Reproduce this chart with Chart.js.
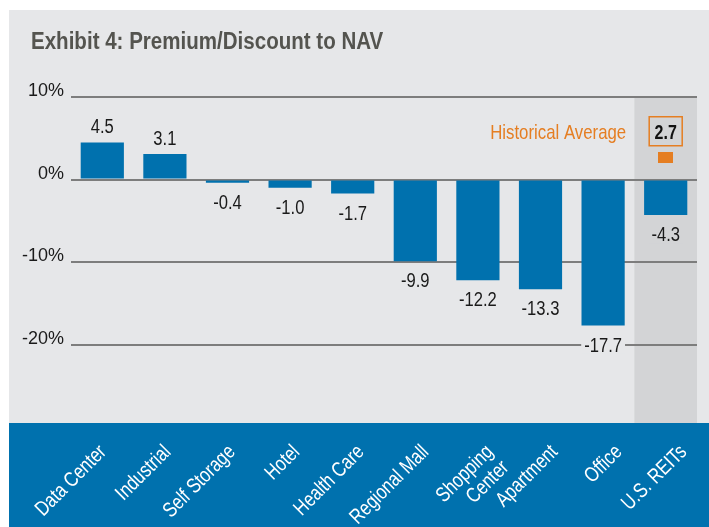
<!DOCTYPE html>
<html>
<head>
<meta charset="utf-8">
<script src="https://cdn.jsdelivr.net/npm/chart.js@4/dist/chart.umd.min.js"></script>
<style>
  html, body { margin: 0; padding: 0; background: #fff; }
  canvas { display: block; }
</style>
</head>
<body>
<canvas id="navChart" width="709" height="527"></canvas>
<script>
const categories = ['Data Center', 'Industrial', 'Self Storage', 'Hotel', 'Health Care',
  'Regional Mall', ['Shopping', 'Center'], 'Apartment', 'Office', 'U.S. REITs'];
const premiumValues = [4.5, 3.1, -0.4, -1.0, -1.7, -9.9, -12.2, -13.3, -17.7, -4.3];
const historicalAverage = [null, null, null, null, null, null, null, null, null, 2.7];
const yTicks = [-20, -10, 0, 10];

const FONT = "'Liberation Sans', Arial, sans-serif";
const panelColor = '#e6e7e9';
const highlightColor = '#d3d4d6';
const barColor = '#0071ae';
const orange = '#e57e22';
const highlightIndex = categories.length - 1;

// small orange block for the historical average marker
const marker = document.createElement('canvas');
marker.width = 15;
marker.height = 11;
const mctx = marker.getContext('2d');
mctx.fillStyle = orange;
mctx.fillRect(0, 0, 15, 11);

// the source uses a narrow face, so squeeze text horizontally
function narrowText(ctx, text, x, y, sx) {
  ctx.save();
  ctx.translate(x, y);
  ctx.scale(sx, 1);
  ctx.fillText(text, 0, 0);
  ctx.restore();
}

const panelPlugin = {
  id: 'panel',
  beforeDraw(chart) {
    const { ctx, chartArea, width, height } = chart;
    ctx.save();
    ctx.fillStyle = '#ffffff';
    ctx.fillRect(0, 0, width, height);
    ctx.fillStyle = panelColor;
    ctx.fillRect(9, 10, width - 9, height - 10);
    // highlight column behind U.S. REITs
    const x = chart.scales.x;
    const half = (x.getPixelForValue(1) - x.getPixelForValue(0)) / 2;
    ctx.fillStyle = highlightColor;
    ctx.fillRect(x.getPixelForValue(highlightIndex) - half, chartArea.top,
      half * 2, chartArea.bottom - chartArea.top);
    // blue band for category labels
    ctx.fillStyle = barColor;
    ctx.fillRect(9, chartArea.bottom, width - 9, height - chartArea.bottom);
    ctx.restore();
  },
  afterDatasetsDraw(chart) {
    const { ctx } = chart;
    const meta = chart.getDatasetMeta(0);
    ctx.save();
    ctx.font = '20px ' + FONT;
    ctx.textAlign = 'center';
    ctx.textBaseline = 'alphabetic';
    meta.data.forEach((bar, i) => {
      const v = premiumValues[i];
      const label = v.toFixed(1);
      if (v >= 0) {
        ctx.fillStyle = '#1a1a1a';
        narrowText(ctx, label, bar.x, bar.y - 9, 0.83);
      } else {
        const w = ctx.measureText(label).width * 0.83;
        ctx.fillStyle = i === highlightIndex ? highlightColor : panelColor;
        ctx.fillRect(bar.x - w / 2 - 3, bar.y + 10, w + 6, 18);
        ctx.fillStyle = '#1a1a1a';
        narrowText(ctx, label, bar.x, bar.y + 26, 0.83);
      }
    });
    ctx.restore();
  },
  afterDraw(chart) {
    const { ctx, chartArea } = chart;
    const x = chart.scales.x;
    const y = chart.scales.y;
    ctx.save();

    // rotated category labels in the blue band
    const first = x.getPixelForValue(0);
    ctx.font = '21px ' + FONT;
    ctx.fillStyle = '#ffffff';
    ctx.textAlign = 'right';
    ctx.textBaseline = 'alphabetic';
    categories.forEach((cat, i) => {
      const tx = x.getPixelForValue(i);
      const lines = Array.isArray(cat) ? cat : [cat];
      ctx.save();
      ctx.translate(tx + 5 + (tx - first) * 0.03, chartArea.bottom + 30);
      ctx.rotate(-Math.PI / 4);
      ctx.scale(0.8, 1);
      lines.forEach((line, k) => ctx.fillText(line, 0, k * 22));
      ctx.restore();
    });

    // boxed historical average value
    const cx = x.getPixelForValue(highlightIndex);
    const cy = y.getPixelForValue(historicalAverage[highlightIndex]) - 26;
    ctx.strokeStyle = orange;
    ctx.lineWidth = 1.5;
    ctx.strokeRect(cx - 16.5, cy - 14.5, 33, 29);
    ctx.font = 'bold 20px ' + FONT;
    ctx.fillStyle = '#111';
    ctx.textAlign = 'center';
    narrowText(ctx, historicalAverage[highlightIndex].toFixed(1), cx, cy + 7.5, 0.8);
    ctx.font = '21px ' + FONT;
    ctx.fillStyle = orange;
    ctx.textAlign = 'right';
    narrowText(ctx, 'Historical Average', cx - 39.5, cy + 7.5, 0.8);

    // title
    ctx.font = 'bold 23px ' + FONT;
    ctx.fillStyle = '#54544f';
    ctx.textAlign = 'left';
    narrowText(ctx, 'Exhibit 4: Premium/Discount to NAV', 31, 48.5, 0.893);
    ctx.restore();
  }
};

const ctx = document.getElementById('navChart').getContext('2d');
new Chart(ctx, {
  type: 'bar',
  data: {
    labels: categories,
    datasets: [{
      label: 'Premium/Discount to NAV',
      data: premiumValues,
      backgroundColor: barColor,
      barPercentage: 0.69,
      categoryPercentage: 1.0,
      order: 2
    }, {
      type: 'line',
      label: 'Historical Average',
      data: historicalAverage,
      showLine: false,
      pointStyle: marker,
      pointRadius: 8,
      order: 1
    }]
  },
  options: {
    responsive: false,
    animation: false,
    layout: { padding: { top: 97, right: 12, left: 0, bottom: 0 } },
    plugins: {
      legend: { display: false },
      tooltip: { enabled: false },
      title: { display: false }
    },
    scales: {
      x: {
        grid: { display: false },
        border: { display: false },
        ticks: { display: false },
        afterFit(scale) { scale.height = 104; }
      },
      y: {
        min: -29.5,
        max: 10,
        afterBuildTicks(scale) {
          scale.ticks = yTicks.map(v => ({ value: v }));
        },
        grid: { color: '#7d7d7d', lineWidth: 2, drawTicks: false },
        border: { display: false },
        ticks: {
          color: '#1a1a1a',
          font: { family: FONT, size: 18 },
          padding: 7,
          labelOffset: -6,
          callback: v => v + '%'
        },
        afterFit(scale) { scale.width = 71; }
      }
    }
  },
  plugins: [panelPlugin]
});
</script>
</body>
</html>
